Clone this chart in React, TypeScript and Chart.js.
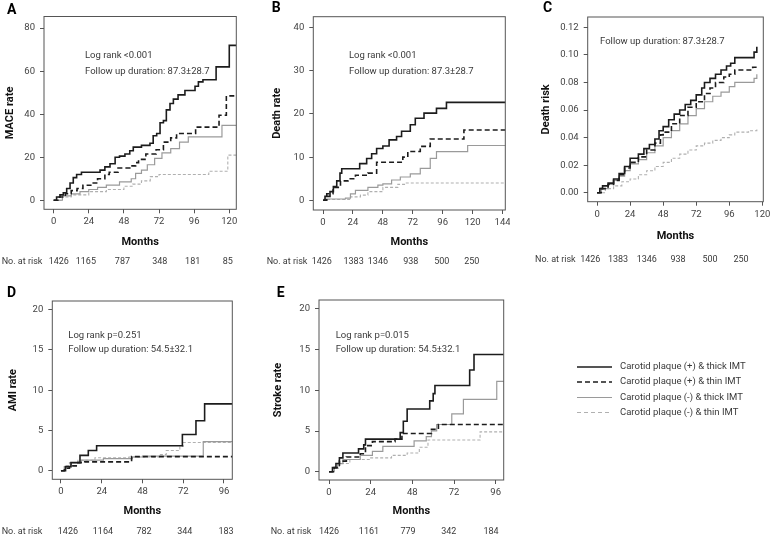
import React, { useEffect, useRef } from 'react';
import { Chart, registerables } from 'chart.js';

Chart.register(...registerables);

type Pt = [number, number];

const FONT = 'Roboto, "Liberation Sans", Arial, sans-serif';

const SERIES_LABELS = [
  'Carotid plaque (+) & thick IMT',
  'Carotid plaque (+) & thin IMT',
  'Carotid plaque (-) & thick IMT',
  'Carotid plaque (-) & thin IMT',
];

// ---------- Panel A: MACE rate ----------
const A_PLUS_THICK: Pt[] = [[0,0],[2,1.5],[4.3,2.5],[6.6,3.5],[8.9,5.5],[11.2,8],[13.4,10.5],[15.7,12],[19,13],[31.7,14],[35,15.5],[38.5,17],[42,20],[45,20.5],[48.7,21.5],[52,23],[54.4,24.7],[60,25.5],[65.8,26.5],[68,30],[70.4,31],[72.7,36],[75,37],[77,42],[79.5,45],[81.8,47],[85,49],[89.7,51],[96.6,53],[98.9,55],[102,56],[111,62],[120,72],[125,72]];
const A_PLUS_THIN: Pt[] = [[0,0],[4,1.5],[8,3],[12,4.5],[16,5.5],[20,7],[26,8],[30,10],[35,12],[38,13],[44,15],[52,16],[56,17.5],[58,19],[63,21.5],[70,23.5],[75,27],[80,29],[84,31],[97,34],[113,39.5],[118,48.5],[125,48.5]];
const A_MINUS_THICK: Pt[] = [[0,0],[6,2],[12,3],[18,4],[24,5],[30,6],[36,7],[45,8.5],[53,10],[56,12.5],[60,14],[64,16.5],[69,19.5],[74,22],[80,24],[86,27],[92,29.5],[115,34.8],[125,34.8]];
const A_MINUS_THIN: Pt[] = [[0,0],[6,1.5],[12,2.5],[24,4],[36,5],[48,6.5],[54,7.5],[60,9],[66,11],[72,12],[106,13.5],[119,21],[125,21]];
const A_X_TICKS = [0, 24, 48, 72, 96, 120];
const A_Y_TICKS = [0, 20, 40, 60, 80];
const A_AT_RISK = ['1426', '1165', '787', '348', '181', '85'];
const A_AT_RISK_AT = [3.5, 22, 47, 72.5, 95, 119];

// ---------- Panel B: Death rate ----------
const B_PLUS_THICK: Pt[] = [[0,0],[1.6,0.9],[5.6,2],[8.3,3.2],[11,4.5],[13.6,6.3],[15,7.3],[29.4,8.5],[35,9.7],[39,10.8],[43,12],[48,12.6],[53,14],[59,14.8],[63,16],[70,17.5],[74,19],[81,20.2],[91,21.3],[99,22.7],[147,22.7]];
const B_PLUS_THIN: Pt[] = [[0,0],[3,1.5],[8,3],[14,4.5],[20,5],[26,5.8],[36,6.3],[43,8.8],[64,10],[68,11.3],[78,12.5],[86,14.2],[113,16.3],[147,16.3]];
const B_MINUS_THICK: Pt[] = [[0,0],[1,0.3],[18,0.5],[22,1.5],[26,2.3],[36,3],[44,3.5],[48,3.8],[55,4.7],[62,5.4],[70,6.1],[78,7.4],[86,9.7],[91,11.3],[116,12.7],[147,12.7]];
const B_MINUS_THIN: Pt[] = [[0,0],[1,0.2],[22,0.8],[30,1.2],[36,2],[48,3],[60,3.7],[66,4],[147,4]];
const B_X_TICKS = [0, 24, 48, 72, 96, 120, 144];
const B_Y_TICKS = [0, 10, 20, 30, 40];
const B_AT_RISK = ['1426', '1383', '1346', '938', '500', '250'];
const B_AT_RISK_AT = [-1, 24.5, 44, 70.4, 95.3, 119.3];

// ---------- Panel C: Death risk ----------
const C_PLUS_THICK: Pt[] = [[0,0],[2,0.003],[4,0.005],[8,0.007],[12,0.010],[16,0.014],[20,0.019],[24,0.025],[30,0.028],[34,0.032],[38,0.035],[42,0.039],[45,0.045],[48,0.048],[52,0.053],[56,0.057],[60,0.060],[64,0.064],[68,0.067],[72,0.071],[76,0.076],[78,0.080],[82,0.083],[86,0.086],[90,0.089],[94,0.092],[97,0.094],[100,0.098],[114,0.102],[116,0.106]];
const C_PLUS_THIN: Pt[] = [[0,0],[3,0.003],[8,0.006],[12,0.009],[16,0.013],[20,0.018],[24,0.022],[30,0.026],[36,0.031],[42,0.036],[46,0.042],[48,0.044],[54,0.050],[60,0.056],[66,0.062],[72,0.066],[78,0.072],[82,0.076],[86,0.080],[92,0.084],[96,0.086],[100,0.089],[113,0.091],[116,0.093]];
const C_MINUS_THICK: Pt[] = [[0,0],[3,0.003],[8,0.006],[12,0.009],[16,0.012],[20,0.016],[24,0.021],[30,0.024],[36,0.029],[42,0.034],[48,0.040],[54,0.045],[60,0.050],[66,0.056],[72,0.061],[78,0.066],[84,0.070],[90,0.073],[96,0.077],[100,0.080],[114,0.083],[116,0.086]];
const C_MINUS_THIN: Pt[] = [[0,0],[6,0.003],[12,0.005],[18,0.008],[24,0.010],[30,0.013],[36,0.016],[42,0.019],[48,0.022],[54,0.025],[60,0.028],[66,0.031],[72,0.034],[78,0.036],[84,0.038],[90,0.040],[96,0.042],[100,0.044],[110,0.045],[116,0.046]];
const C_X_TICKS = [0, 24, 48, 72, 96, 120];
const C_Y_TICKS = [0, 0.02, 0.04, 0.06, 0.08, 0.1, 0.12];
const C_AT_RISK = ['1426', '1383', '1346', '938', '500', '250'];
const C_AT_RISK_AT = [-4.9, 15.2, 36.1, 58.8, 82, 104.5];

// ---------- Panel D: AMI rate ----------
const D_PLUS_THICK: Pt[] = [[0,0],[2.7,0.5],[5.9,1],[11.2,1.9],[16.1,2.5],[21,3.1],[71.5,4.5],[79.5,6.2],[84.6,8.3],[101,8.3]];
const D_PLUS_THIN: Pt[] = [[0,0],[2,0.3],[5,0.6],[9,1],[14,1.1],[41.6,1.75],[101,1.75]];
const D_MINUS_THICK: Pt[] = [[0,0],[2,0.5],[6,1],[12,1.3],[25,1.5],[42,1.7],[48,1.8],[83.8,3.6],[101,3.6]];
const D_MINUS_THIN: Pt[] = [[0,0],[2,0.6],[5,1],[10,1.3],[20,1.6],[40,1.7],[58,2],[62,2.5],[70,3],[72,3.5],[101,3.5]];
const D_X_TICKS = [0, 24, 48, 72, 96];
const D_Y_TICKS = [0, 5, 10, 15, 20];
const D_AT_RISK = ['1426', '1164', '782', '344', '183'];
const D_AT_RISK_AT = [4.1, 24.7, 48.9, 72.9, 97.2];

// ---------- Panel E: Stroke rate ----------
const E_PLUS_THICK: Pt[] = [[0,0],[2,0.5],[4,1],[6,1.7],[8,2.3],[17,2.8],[20,3.3],[21,4],[41,4.8],[42.8,6.2],[45,7.7],[58,8.7],[60,9.6],[61,10.6],[81,12.5],[83.5,14.4],[101,14.4]];
const E_PLUS_THIN: Pt[] = [[0,0],[3,0.5],[6,1.3],[10,1.8],[18,2.2],[21,3.2],[25,3.7],[38,4],[42,4.7],[59,5.2],[63,5.8],[101,5.8]];
const E_MINUS_THICK: Pt[] = [[0,0],[3,0.5],[5,1],[8,1.5],[18,2],[25,2.5],[31,3.1],[49,3.8],[56,4.3],[59,5],[62,5.8],[70.7,7.1],[77.4,8.9],[96.6,11.1],[101,11.1]];
const E_MINUS_THIN: Pt[] = [[0,0],[3,0.4],[6,1],[12,1.5],[24,1.7],[36,2],[45,2.3],[52,3],[57,3.9],[87,4.9],[101,4.9]];
const E_X_TICKS = [0, 24, 48, 72, 96];
const E_Y_TICKS = [0, 5, 10, 15, 20];
const E_AT_RISK = ['1426', '1161', '779', '342', '184'];
const E_AT_RISK_AT = [0, 23, 45.5, 69, 93.3];

const STYLES = [
  { color: '#1c1c1c', width: 1.6, dash: [] as number[] },
  { color: '#1c1c1c', width: 1.6, dash: [5, 3] },
  { color: '#9a9a9a', width: 1.2, dash: [] as number[] },
  { color: '#b0b0b0', width: 1.1, dash: [3, 2] },
];

interface PanelCfg {
  letter: string;
  left: number; top: number; width: number; height: number;
  box: { l: number; t: number; r: number; b: number };
  yTitleX: number; xTitleY: number;
  xMin: number; xMax: number; yMin: number; yMax: number;
  xTicks: number[]; yTicks: number[]; decimals: number;
  yTitle: string;
  series: Pt[][];
  notes: string[]; noteX: number; noteY: number[];
  riskLabelX: number; riskY: number; riskAt: number[]; risk: string[];
  letterX: number; letterY: number;
  legend?: { lineX1: number; lineX2: number; textX: number; ys: number[] };
}

const PANELS: PanelCfg[] = [
  {
    letter: 'A', left: 0, top: 0, width: 250, height: 270,
    box: { l: 44, t: 16.5, r: 236.3, b: 209.3 }, yTitleX: 10, xTitleY: 242.3,
    xMin: -6.6, xMax: 124.8, yMin: -4.2, yMax: 85.4, xTicks: A_X_TICKS, yTicks: A_Y_TICKS, decimals: 0,
    yTitle: 'MACE rate', series: [A_PLUS_THICK, A_PLUS_THIN, A_MINUS_THICK, A_MINUS_THIN],
    notes: ['Log rank <0.001', 'Follow up duration: 87.3\u00B128.7'], noteX: 85, noteY: [56, 71.7],
    riskLabelX: 1.7, riskY: 261.3, riskAt: A_AT_RISK_AT, risk: A_AT_RISK, letterX: 7, letterY: 10,
  },
  {
    letter: 'B', left: 250, top: 0, width: 260, height: 270,
    box: { l: 63.3, t: 16.7, r: 255.3, b: 210 }, yTitleX: 27, xTitleY: 242,
    xMin: -7.8, xMax: 146.2, yMin: -2.25, yMax: 42.55, xTicks: B_X_TICKS, yTicks: B_Y_TICKS, decimals: 0,
    yTitle: 'Death rate', series: [B_PLUS_THICK, B_PLUS_THIN, B_MINUS_THICK, B_MINUS_THIN],
    notes: ['Log rank <0.001', 'Follow up duration: 87.3\u00B128.7'], noteX: 99, noteY: [56, 72],
    riskLabelX: 16.7, riskY: 261.3, riskAt: B_AT_RISK_AT, risk: B_AT_RISK, letterX: 21.7, letterY: 8.5,
  },
  {
    letter: 'C', left: 510, top: 0, width: 264, height: 270,
    box: { l: 77.7, t: 17, r: 253.3, b: 201.7 }, yTitleX: 36, xTitleY: 236.7,
    xMin: -6.8, xMax: 120.7, yMin: -0.0065, yMax: 0.1275, xTicks: C_X_TICKS, yTicks: C_Y_TICKS, decimals: 2,
    yTitle: 'Death risk', series: [C_PLUS_THICK, C_PLUS_THIN, C_MINUS_THICK, C_MINUS_THIN],
    notes: ['Follow up duration: 87.3\u00B128.7'], noteX: 90, noteY: [41.7],
    riskLabelX: 25, riskY: 259.5, riskAt: C_AT_RISK_AT, risk: C_AT_RISK, letterX: 33, letterY: 8.5,
  },
  {
    letter: 'D', left: 0, top: 270, width: 250, height: 267,
    box: { l: 52.3, t: 31, r: 232.3, b: 209.3 }, yTitleX: 13.3, xTitleY: 241,
    xMin: -5.1, xMax: 100.9, yMin: -1.07, yMax: 21.08, xTicks: D_X_TICKS, yTicks: D_Y_TICKS, decimals: 0,
    yTitle: 'AMI rate', series: [D_PLUS_THICK, D_PLUS_THIN, D_MINUS_THICK, D_MINUS_THIN],
    notes: ['Log rank p=0.251', 'Follow up duration: 54.5\u00B132.1'], noteX: 68.3, noteY: [65.7, 80],
    riskLabelX: 1.7, riskY: 261.5, riskAt: D_AT_RISK_AT, risk: D_AT_RISK, letterX: 7, letterY: 23.3,
  },
  {
    letter: 'E', left: 250, top: 270, width: 524, height: 267,
    box: { l: 69, t: 30, r: 253.7, b: 210 }, yTitleX: 28.3, xTitleY: 241,
    xMin: -5.76, xMax: 100.6, yMin: -1.02, yMax: 21.1, xTicks: E_X_TICKS, yTicks: E_Y_TICKS, decimals: 0,
    yTitle: 'Stroke rate', series: [E_PLUS_THICK, E_PLUS_THIN, E_MINUS_THICK, E_MINUS_THIN],
    notes: ['Log rank p=0.015', 'Follow up duration: 54.5\u00B132.1'], noteX: 85.7, noteY: [65.7, 80],
    riskLabelX: 20.7, riskY: 261.5, riskAt: E_AT_RISK_AT, risk: E_AT_RISK, letterX: 26.7, letterY: 23.3,
    legend: { lineX1: 327, lineX2: 362, textX: 370, ys: [97, 112, 127.5, 142.5] },
  },
];

const TITLE_SIZE = 11;
const TITLE_HALF = (TITLE_SIZE * 1.2) / 2;

function Panel({ cfg }: { cfg: PanelCfg }) {
  const ref = useRef<HTMLCanvasElement | null>(null);
  useEffect(() => {
    const canvas = ref.current;
    if (!canvas) return;
    const padLeft = cfg.yTitleX - TITLE_HALF;
    const yWidth = cfg.box.l - padLeft;
    const xHeight = cfg.xTitleY + TITLE_HALF - cfg.box.b;
    const padBottom = cfg.height - (cfg.box.b + xHeight);

    const extras = {
      id: 'panelExtras',
      afterDatasetsDraw(chart: any) {
        const { ctx, chartArea } = chart;
        ctx.save();
        ctx.strokeStyle = '#555';
        ctx.lineWidth = 1;
        ctx.setLineDash([]);
        ctx.strokeRect(chartArea.left, chartArea.top, chartArea.right - chartArea.left, chartArea.bottom - chartArea.top);
        ctx.restore();
      },
      afterDraw(chart: any) {
        const { ctx } = chart;
        const xs = chart.scales.x;
        ctx.save();
        ctx.textBaseline = 'middle';
        // panel letter
        ctx.fillStyle = '#000';
        ctx.font = `bold 14px ${FONT}`;
        ctx.textAlign = 'left';
        ctx.fillText(cfg.letter, cfg.letterX, cfg.letterY);
        // notes
        ctx.fillStyle = '#3a3a3a';
        ctx.font = `9.5px ${FONT}`;
        cfg.notes.forEach((n, i) => ctx.fillText(n, cfg.noteX, cfg.noteY[i]));
        // at risk row
        ctx.font = `9px ${FONT}`;
        ctx.fillText('No. at risk', cfg.riskLabelX, cfg.riskY);
        ctx.textAlign = 'center';
        cfg.risk.forEach((r, i) => ctx.fillText(r, xs.getPixelForValue(cfg.riskAt[i]), cfg.riskY));
        // legend
        if (cfg.legend) {
          const lg = cfg.legend;
          STYLES.forEach((st, i) => {
            ctx.beginPath();
            ctx.strokeStyle = st.color;
            ctx.lineWidth = st.width;
            ctx.setLineDash(i === 3 ? [4, 3] : st.dash);
            ctx.moveTo(lg.lineX1, lg.ys[i]);
            ctx.lineTo(lg.lineX2, lg.ys[i]);
            ctx.stroke();
          });
          ctx.setLineDash([]);
          ctx.fillStyle = '#3a3a3a';
          ctx.font = `9.5px ${FONT}`;
          ctx.textAlign = 'left';
          SERIES_LABELS.forEach((t, i) => ctx.fillText(t, lg.textX, lg.ys[i]));
        }
        ctx.restore();
      },
    };

    const chart = new Chart(canvas, {
      type: 'line',
      data: {
        datasets: cfg.series.map((s, i) => ({
          label: SERIES_LABELS[i],
          data: s.map(([x, y]) => ({ x, y })),
          stepped: 'before' as const,
          borderColor: STYLES[i].color,
          borderWidth: STYLES[i].width,
          borderDash: STYLES[i].dash,
          pointRadius: 0,
          fill: false,
        })),
      },
      options: {
        responsive: false,
        animation: false,
        events: [],
        layout: { padding: { left: padLeft, top: cfg.box.t, right: cfg.width - cfg.box.r, bottom: padBottom } },
        plugins: { legend: { display: false }, tooltip: { enabled: false } },
        scales: {
          x: {
            type: 'linear',
            min: cfg.xMin,
            max: cfg.xMax,
            afterBuildTicks: (s: any) => { s.ticks = cfg.xTicks.map((v) => ({ value: v })); },
            afterFit: (s: any) => { s.height = xHeight; s.paddingLeft = 0; s.paddingRight = 0; },
            grid: { drawOnChartArea: false, drawTicks: true, tickLength: 4, color: '#555' },
            border: { display: false },
            ticks: { autoSkip: false, maxRotation: 0, padding: 3, color: '#444', font: { family: FONT, size: 9.5 }, callback: (v: any) => String(v) },
            title: { display: true, text: 'Months', color: '#111', padding: 0, font: { family: FONT, size: TITLE_SIZE, weight: 'bold' } },
          },
          y: {
            type: 'linear',
            min: cfg.yMin,
            max: cfg.yMax,
            afterBuildTicks: (s: any) => { s.ticks = cfg.yTicks.map((v) => ({ value: v })); },
            afterFit: (s: any) => { s.width = yWidth; s.paddingTop = 0; s.paddingBottom = 0; },
            grid: { drawOnChartArea: false, drawTicks: true, tickLength: 4, color: '#555' },
            border: { display: false },
            ticks: { autoSkip: false, padding: 5, color: '#444', font: { family: FONT, size: 9.5 }, callback: (v: any) => Number(v).toFixed(cfg.decimals) },
            title: { display: true, text: cfg.yTitle, color: '#111', padding: 0, font: { family: FONT, size: TITLE_SIZE, weight: 'bold' } },
          },
        },
      },
      plugins: [extras],
    } as any);
    return () => chart.destroy();
  }, [cfg]);

  return (
    <canvas
      ref={ref}
      width={cfg.width}
      height={cfg.height}
      style={{ position: 'absolute', left: cfg.left, top: cfg.top, width: cfg.width, height: cfg.height }}
    />
  );
}

export default function App() {
  return (
    <div style={{ position: 'absolute', left: 0, top: 0, width: 774, height: 537, background: '#fff', overflow: 'hidden' }}>
      {PANELS.map((p) => (
        <Panel key={p.letter} cfg={p} />
      ))}
    </div>
  );
}
